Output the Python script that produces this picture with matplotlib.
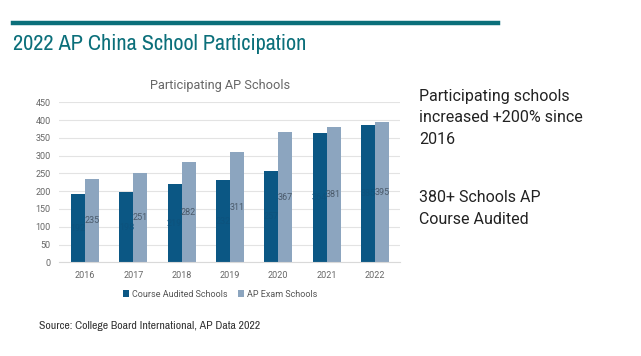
import numpy as np
import matplotlib.pyplot as plt
from matplotlib import font_manager

years = ['2016', '2017', '2018', '2019', '2020', '2021', '2022']
course_audited = [192, 198, 219, 232, 257, 364, 385]
ap_exam = [235, 251, 282, 311, 367, 381, 395]
yticks = [0, 50, 100, 150, 200, 250, 300, 350, 400, 450]

dark = '#0b5784'
light = '#8ca5bf'
teal = '#0b6f7a'

# look for a narrow face for the heading, if one is installed
names = sorted({f.name for f in font_manager.fontManager.ttflist})
narrow = [n for n in names if 'Narrow' in n or 'Condensed' in n]
head_font = narrow[0] if narrow else None

fig = plt.figure(figsize=(6.41, 3.56), dpi=100)
fig.patch.set_facecolor('white')

# heading + rule
fig.add_artist(plt.Line2D([13/641, 498/641], [1-22.7/356, 1-22.7/356],
                          color=teal, lw=3.2))
if head_font:
    fig.text(13/641, 1-44/356, '2022 AP China School Participation', color=teal,
             fontsize=16, family=head_font, va='center', ha='left')
    src_kw = dict(family=head_font, fontsize=8.5)
else:
    fig.text(13/641, 1-44/356, '2022 AP China School Participation', color=teal,
             fontsize=14, family='Liberation Sans', va='center', ha='left')
    src_kw = dict(family='Roboto', fontsize=7.3)

ax = fig.add_axes([59/641, 1-262.3/356, 341/641, 160/356])
x = np.arange(len(years))
w = 0.29
b1 = ax.bar(x - w/2, course_audited, w, color=dark, label='Course Audited Schools', zorder=2)
b2 = ax.bar(x + w/2, ap_exam, w, color=light, label='AP Exam Schools', zorder=2)
ax.bar_label(b1, label_type='center', fontsize=6.5, color='#0d527d', family='Roboto')
ax.bar_label(b2, label_type='center', fontsize=6.5, color='#4a5a6a', family='Roboto')

ax.set_xlim(-0.54, 6.52)
ax.set_ylim(0, 450)
ax.set_yticks(yticks)
ax.set_xticks(x)
ax.set_xticklabels(years)
ax.grid(axis='y', color='#e3e3e3', lw=0.8, zorder=0)
for s in ['top', 'right', 'left']:
    ax.spines[s].set_visible(False)
ax.spines['bottom'].set_color('#d9d9d9')
ax.tick_params(length=0, labelsize=6.5, labelcolor='#666666', pad=6)
for lab in ax.get_xticklabels() + ax.get_yticklabels():
    lab.set_family('Roboto')

fig.text(220/641, 1-85/356, 'Participating AP Schools', ha='center', va='center',
         fontsize=9.2, color='#666666', family='Roboto')
ax.legend(loc='upper center', bbox_to_anchor=(161/341, -0.12), ncol=2, frameon=False,
          prop={'family': 'Roboto', 'size': 6.5}, labelcolor='#555555',
          handlelength=0.7, handleheight=0.7, handletextpad=0.3, columnspacing=1.2)

# right side notes
for txt, y in [('Participating schools', 97), ('increased +200% since', 118), ('2016', 139),
               ('380+ Schools AP', 198), ('Course Audited', 219)]:
    fig.text(419/641, 1-y/356, txt, fontsize=11.5, color='#222222', family='Roboto',
             va='center', ha='left')

fig.text(39/641, 1-326/356, 'Source: College Board International, AP Data 2022',
         color='#333333', va='center', ha='left', **src_kw)

fig.savefig('out.png', dpi=100)
